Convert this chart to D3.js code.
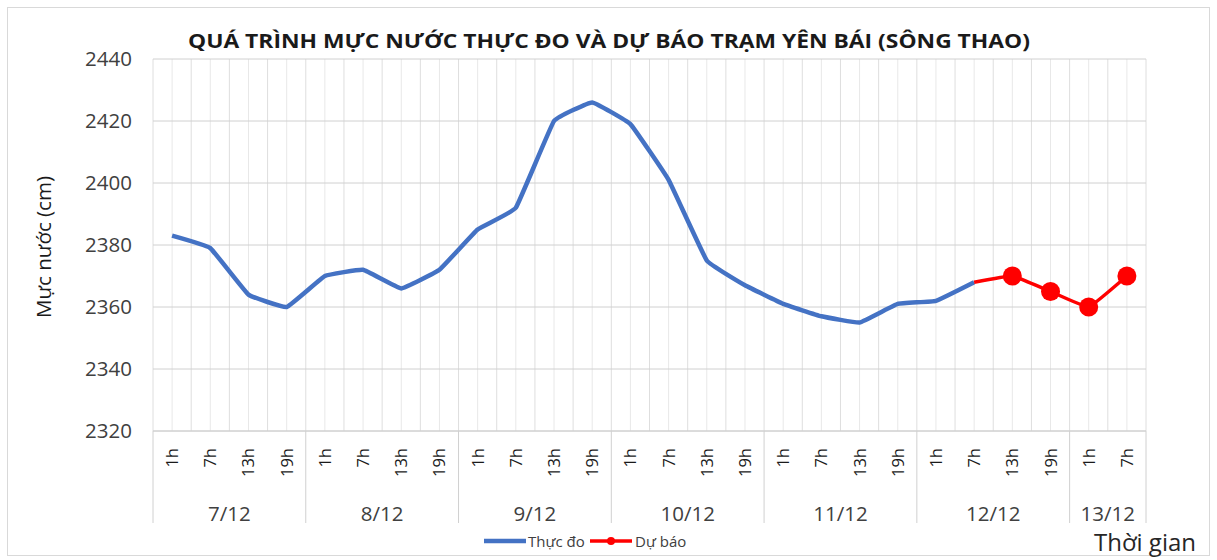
<!DOCTYPE html>
<html>
<head>
<meta charset="utf-8">
<script src="https://cdn.jsdelivr.net/npm/d3@7"></script>
<style>
  body { margin: 0; background: #fff; }
  text { font-family: "Open Sans", sans-serif; }
</style>
</head>
<body>
<div id="chart"></div>
<script>
// data
var days = ["7/12", "8/12", "9/12", "10/12", "11/12", "12/12", "13/12"];
var hoursPerDay = [4, 4, 4, 4, 4, 4, 2];
var hourTicks = ["1h", "7h", "13h", "19h"];

var observed = [2383, 2379, 2364, 2360,
                2370, 2372, 2366, 2372,
                2385, 2392, 2420, 2426,
                2419, 2401, 2375, 2367,
                2361, 2357, 2355, 2361,
                2362, 2368, null, null,
                null, null];
var forecast = [null, null, null, null,
                null, null, null, null,
                null, null, null, null,
                null, null, null, null,
                null, null, null, null,
                null, 2368, 2370, 2365,
                2360, 2370];

var yTicks = [2320, 2340, 2360, 2380, 2400, 2420, 2440];

// build categories
var cats = [];
days.forEach(function(d, i) {
  for (var k = 0; k < hoursPerDay[i]; k++) {
    cats.push({ day: d, hour: hourTicks[k], first: k === 0 });
  }
});
cats.forEach(function(c, i) { c.i = i; c.obs = observed[i]; c.fc = forecast[i]; });

var W = 1217, H = 560;
var margin = {top: 59, right: 71, bottom: 129, left: 153},
    width = W - margin.left - margin.right,
    height = H - margin.top - margin.bottom;

var svg = d3.select("#chart")
  .append("svg")
    .attr("width", W)
    .attr("height", H);

svg.append("rect")
  .attr("x", 7.5).attr("y", 7.5)
  .attr("width", W - 15).attr("height", H - 12)
  .attr("fill", "#fff")
  .attr("stroke", "#d9d9d9");

var g = svg.append("g")
  .attr("transform", "translate(" + margin.left + "," + margin.top + ")");

var x = d3.scaleBand()
  .domain(cats.map(function(c) { return c.i; }))
  .range([0, width])
  .padding(0);

var y = d3.scaleLinear()
  .domain([2320, 2440])
  .range([height, 0]);

function cx(i) { return x(i) + x.bandwidth() / 2; }

// vertical gridlines: band edges and centres
var edges = cats.map(function(c) { return x(c.i); }).concat([width]);
g.append("g").selectAll("line.vmin")
  .data(cats)
  .enter().append("line")
    .attr("x1", function(d) { return cx(d.i); })
    .attr("x2", function(d) { return cx(d.i); })
    .attr("y1", 0).attr("y2", height)
    .attr("stroke", "#e8e8e8");
g.append("g").selectAll("line.vmaj")
  .data(edges)
  .enter().append("line")
    .attr("x1", function(d) { return d; })
    .attr("x2", function(d) { return d; })
    .attr("y1", 0).attr("y2", height)
    .attr("stroke", "#dedede");

// horizontal gridlines
g.append("g").selectAll("line.h")
  .data(yTicks)
  .enter().append("line")
    .attr("x1", 0).attr("x2", width)
    .attr("y1", function(d) { return y(d); })
    .attr("y2", function(d) { return y(d); })
    .attr("stroke", "#d0d0d0");

// Y axis labels
var yAxis = g.append("g")
  .call(d3.axisLeft(y).tickValues(yTicks).tickSize(0).tickPadding(21).tickFormat(d3.format("d")));
yAxis.select(".domain").remove();
yAxis.selectAll("text")
  .style("font-size", "20.5px")
  .style("font-family", "Open Sans, sans-serif")
  .attr("fill", "#404040");

// x axis line
g.append("line")
  .attr("x1", 0).attr("x2", width)
  .attr("y1", height).attr("y2", height)
  .attr("stroke", "#d0d0d0");

// hour labels
g.append("g").selectAll("text.hour")
  .data(cats)
  .enter().append("text")
    .attr("transform", function(d) { return "translate(" + (cx(d.i) + 6) + "," + (height + 17) + ") rotate(-90)"; })
    .style("text-anchor", "end")
    .style("font-size", "16.5px")
    .attr("fill", "#1a1a1a")
    .text(function(d) { return d.hour; });

// day separators
var sepIdx = cats.filter(function(c) { return c.first; }).map(function(c) { return x(c.i); }).concat([width]);
g.append("g").selectAll("line.sep")
  .data(sepIdx)
  .enter().append("line")
    .attr("x1", function(d) { return d; })
    .attr("x2", function(d) { return d; })
    .attr("y1", height).attr("y2", height + 92)
    .attr("stroke", "#d0d0d0");

// day labels
var dayPos = days.map(function(d, i) {
  var idx = cats.filter(function(c) { return c.day === d; });
  var a = x(idx[0].i), b = x(idx[idx.length - 1].i) + x.bandwidth();
  return { day: d, x: (a + b) / 2 };
});
g.append("g").selectAll("text.day")
  .data(dayPos)
  .enter().append("text")
    .attr("x", function(d) { return d.x; })
    .attr("y", height + 90)
    .style("text-anchor", "middle")
    .style("font-size", "20.5px")
    .attr("fill", "#404040")
    .text(function(d) { return d.day; });

// lines
var line = d3.line()
  .defined(function(d) { return d.v != null; })
  .x(function(d) { return cx(d.i); })
  .y(function(d) { return y(d.v); })
  .curve(d3.curveCardinal.tension(0.75));

g.append("path")
  .datum(cats.map(function(c) { return { i: c.i, v: c.obs }; }))
  .attr("fill", "none")
  .attr("stroke", "#4472c4")
  .attr("stroke-width", 4.5)
  .attr("stroke-linejoin", "round")
  .attr("d", line);

g.append("path")
  .datum(cats.map(function(c) { return { i: c.i, v: c.fc }; }))
  .attr("fill", "none")
  .attr("stroke", "#ff0000")
  .attr("stroke-width", 3.5)
  .attr("stroke-linejoin", "round")
  .attr("d", line);

g.append("g").selectAll("circle")
  .data(cats.filter(function(c) { return c.fc != null && c.obs == null; }))
  .enter().append("circle")
    .attr("cx", function(d) { return cx(d.i); })
    .attr("cy", function(d) { return y(d.fc); })
    .attr("r", 9.5)
    .attr("fill", "#ff0000");

// title
svg.append("text")
  .attr("x", 609)
  .attr("y", 48)
  .style("text-anchor", "middle")
  .style("font-size", "20px")
  .style("font-weight", "bold")
  .attr("fill", "#1a1a1a")
  .attr("textLength", 842)
  .attr("lengthAdjust", "spacingAndGlyphs")
  .text("QUÁ TRÌNH MỰC NƯỚC THỰC ĐO VÀ DỰ BÁO TRẠM YÊN BÁI (SÔNG THAO)");

// y axis title
svg.append("text")
  .attr("transform", "translate(51,247) rotate(-90)")
  .style("text-anchor", "middle")
  .style("font-size", "20.5px")
  .attr("fill", "#1a1a1a")
  .text("Mực nước (cm)");

// legend
var lg = svg.append("g").attr("transform", "translate(0,541)");
lg.append("line").attr("x1", 484).attr("x2", 526).attr("y1", 0).attr("y2", 0)
  .attr("stroke", "#4472c4").attr("stroke-width", 4.5);
lg.append("text").attr("x", 528).attr("y", 5.5).style("font-size", "15px").attr("fill", "#404040").text("Thực đo");
lg.append("line").attr("x1", 590).attr("x2", 632).attr("y1", 0).attr("y2", 0)
  .attr("stroke", "#ff0000").attr("stroke-width", 3.5);
lg.append("circle").attr("cx", 611).attr("cy", 0).attr("r", 4).attr("fill", "#ff0000");
lg.append("text").attr("x", 635).attr("y", 5.5).style("font-size", "15px").attr("fill", "#404040").text("Dự báo");

svg.append("text")
  .attr("x", 1196)
  .attr("y", 551)
  .style("text-anchor", "end")
  .style("font-size", "24px")
  .attr("fill", "#262626")
  .text("Thời gian");
</script>
</body>
</html>
